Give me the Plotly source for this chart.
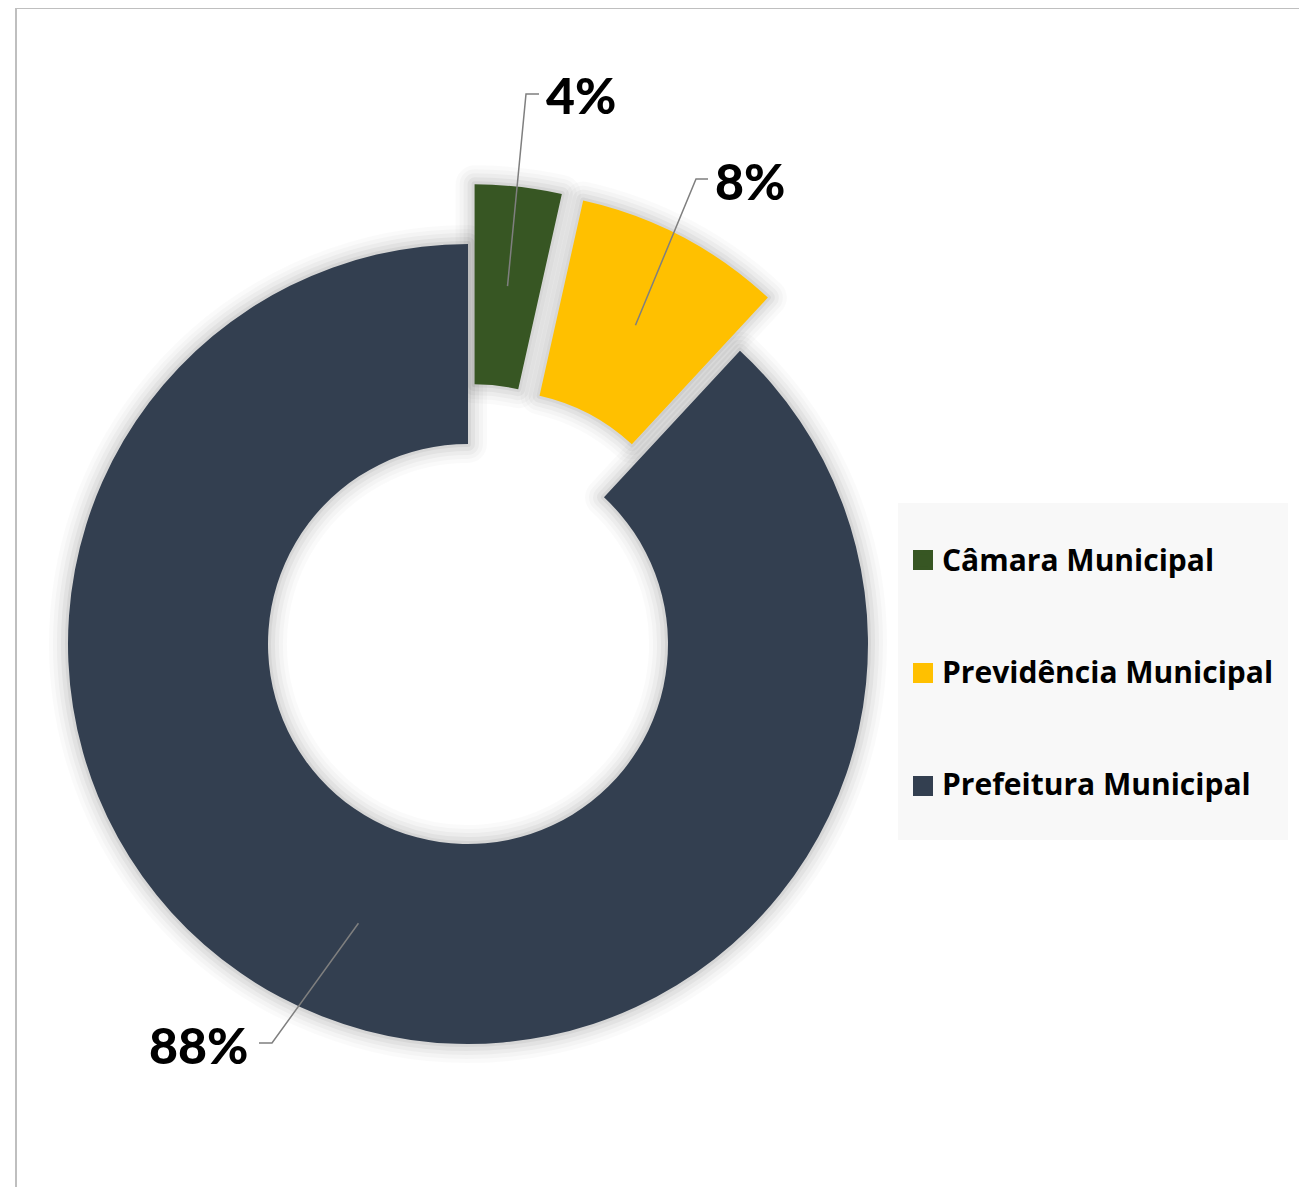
import math
import plotly.graph_objects as go

# ---- data ----
labels = ["Câmara Municipal", "Previdência Municipal", "Prefeitura Municipal"]
values = [3.5, 8.4, 88.1]
pct_text = ["4%", "8%", "88%"]
colors = ["#375623", "#FFC000", "#333F50"]
pulls = [0.15, 0.15, 0.0]

# ---- layout geometry (screen pixels; page body has an 8px margin) ----
W, H = 1307, 1187
OFF = 8
cx, cy = 468, 644
hole = 0.5
half = cx - OFF                      # pie box half-size, as large as fits
R = half / (1 + max(pulls))          # resulting outer radius


def px(x):
    return (x - OFF) / W


def py(y):
    return 1 - (y - OFF) / H


dom_x = [max(0.0, px(cx - half)), px(cx + half)]
dom_y = [py(cy + half), py(cy - half)]

fig = go.Figure()

# soft shadow layers
for lw, a in [(38, 0.02), (30, 0.025), (22, 0.03), (14, 0.04), (6, 0.05)]:
    fig.add_trace(go.Pie(
        labels=labels, values=values, sort=False, direction="clockwise",
        rotation=0, hole=hole, pull=pulls, domain=dict(x=dom_x, y=dom_y),
        marker=dict(colors=["rgba(0,0,0,0)"] * 3,
                    line=dict(color=f"rgba(0,0,0,{a})", width=lw)),
        textinfo="none", hoverinfo="skip", showlegend=False,
    ))

legend_labels = ["<br><span style='font-size:30px'>" + l + "</span><br>" for l in labels]
fig.add_trace(go.Pie(
    labels=legend_labels, values=values, sort=False, direction="clockwise",
    rotation=0, hole=hole, pull=pulls, domain=dict(x=dom_x, y=dom_y),
    marker=dict(colors=colors, line=dict(width=0)),
    textinfo="none", hovertext=labels, hoverinfo="text+percent",
    showlegend=True,
))

# ---- data labels with leader lines ----
label_pos = [(544, 95, "left"), (713, 181, "left"), (250, 1045, "right")]
elbows = [(526, 94), (696, 179), (272, 1043)]
ends = [(539, 94), (708, 179), (259, 1043)]

total = sum(values)
cum = 0.0
shapes = []
annotations = []
for i, v in enumerate(values):
    a0 = cum / total * 360
    cum += v
    a1 = cum / total * 360
    mid = math.radians((a0 + a1) / 2)
    dist = (pulls[i] + (1 + hole) / 2) * R
    ax = cx + dist * math.sin(mid)
    ay = cy - dist * math.cos(mid)
    ex, ey = elbows[i]
    tx, ty = ends[i]
    shapes.append(dict(
        type="path", xref="paper", yref="paper",
        path=f"M{px(ax)},{py(ay)} L{px(ex)},{py(ey)} L{px(tx)},{py(ty)}",
        line=dict(color="#7F7F7F", width=1.5),
    ))
    lx, ly, side = label_pos[i]
    annotations.append(dict(
        x=px(lx), y=py(ly), xref="paper", yref="paper", text=pct_text[i],
        showarrow=False, xanchor=side, yanchor="middle",
        font=dict(family="Lato", size=50, color="#000000", weight=900),
    ))

# legend background box and larger swatches
LEG_L, LEG_T, LEG_R, LEG_B = 898, 503, 1288, 840
shapes.append(dict(type="rect", xref="paper", yref="paper", layer="below",
                   x0=px(LEG_L), x1=px(LEG_R), y0=py(LEG_B), y1=py(LEG_T),
                   fillcolor="#F8F8F8", line=dict(width=0)))
row_y = [560, 673, 786]
for c, ry in zip(colors, row_y):
    shapes.append(dict(type="rect", xref="paper", yref="paper", layer="below",
                       x0=px(913), x1=px(933), y0=py(ry + 10), y1=py(ry - 10),
                       fillcolor=c, line=dict(width=0)))

# chart-area border (top and left edges visible)
shapes.append(dict(type="line", xref="paper", yref="paper", x0=px(16), x1=1.02,
                   y0=py(8), y1=py(8), line=dict(color="#BFBFBF", width=2)))
shapes.append(dict(type="line", xref="paper", yref="paper", x0=px(16), x1=px(16),
                   y0=py(8), y1=-0.02, line=dict(color="#BFBFBF", width=2)))

fig.update_layout(
    width=W, height=H,
    margin=dict(l=0, r=0, t=0, b=0),
    paper_bgcolor="white",
    shapes=shapes,
    annotations=annotations,
    legend=dict(
        x=px(902), y=py(499), xanchor="left", yanchor="top",
        bgcolor="rgba(0,0,0,0)", borderwidth=0,
        font=dict(family="Open Sans", size=28, color="#000000", weight="bold"),
        traceorder="normal",
    ),
    font=dict(family="Lato"),
)

fig.write_html("out.html")
